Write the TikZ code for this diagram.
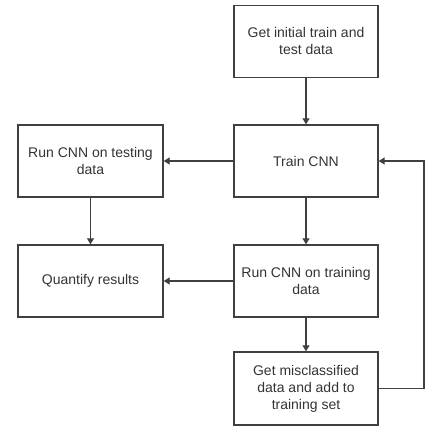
\documentclass[tikz,border=0pt]{standalone}
\usepackage{fontspec}
\setmainfont{Liberation Sans}
\usetikzlibrary{arrows.meta}
\begin{document}
\begin{tikzpicture}[x=1pt,y=-1pt,
  box/.style={draw=black!75,line width=1.4pt,minimum width=144pt,minimum height=72pt,
    align=center,inner sep=0pt,font=\fontsize{14}{17}\selectfont,text=black!80},
  conn/.style={draw=black!75,line width=1.3pt,-{Triangle[width=7pt,length=6pt]}}]
\useasboundingbox (0,0) rectangle (429,427);
\node[box] (init) at (306,41.5) {Get initial train and\\test data};
\node[box] (train) at (306,161) {Train CNN};
\node[box,minimum width=145pt] (test) at (90.5,161) {Run CNN on testing\\data};
\node[box,minimum width=145pt] (quant) at (90.5,281) {Quantify results};
\node[box] (runtr) at (306,281) {Run CNN on training\\data};
\node[box,minimum height=73pt] (mis) at (306,388.5) {Get misclassified\\data and add to\\training set};
\coordinate (c1) at (424,388.5);
\coordinate (c2) at (424,161);
\draw[conn] (init) -- (train);
\draw[conn] (train) -- (test);
\draw[conn] (test) -- (quant);
\draw[conn] (train) -- (runtr);
\draw[conn] (runtr) -- (quant);
\draw[conn] (runtr) -- (mis);
\draw[conn] (mis.east) -- (c1) -- (c2) -- (train.east);
\end{tikzpicture}
\end{document}
